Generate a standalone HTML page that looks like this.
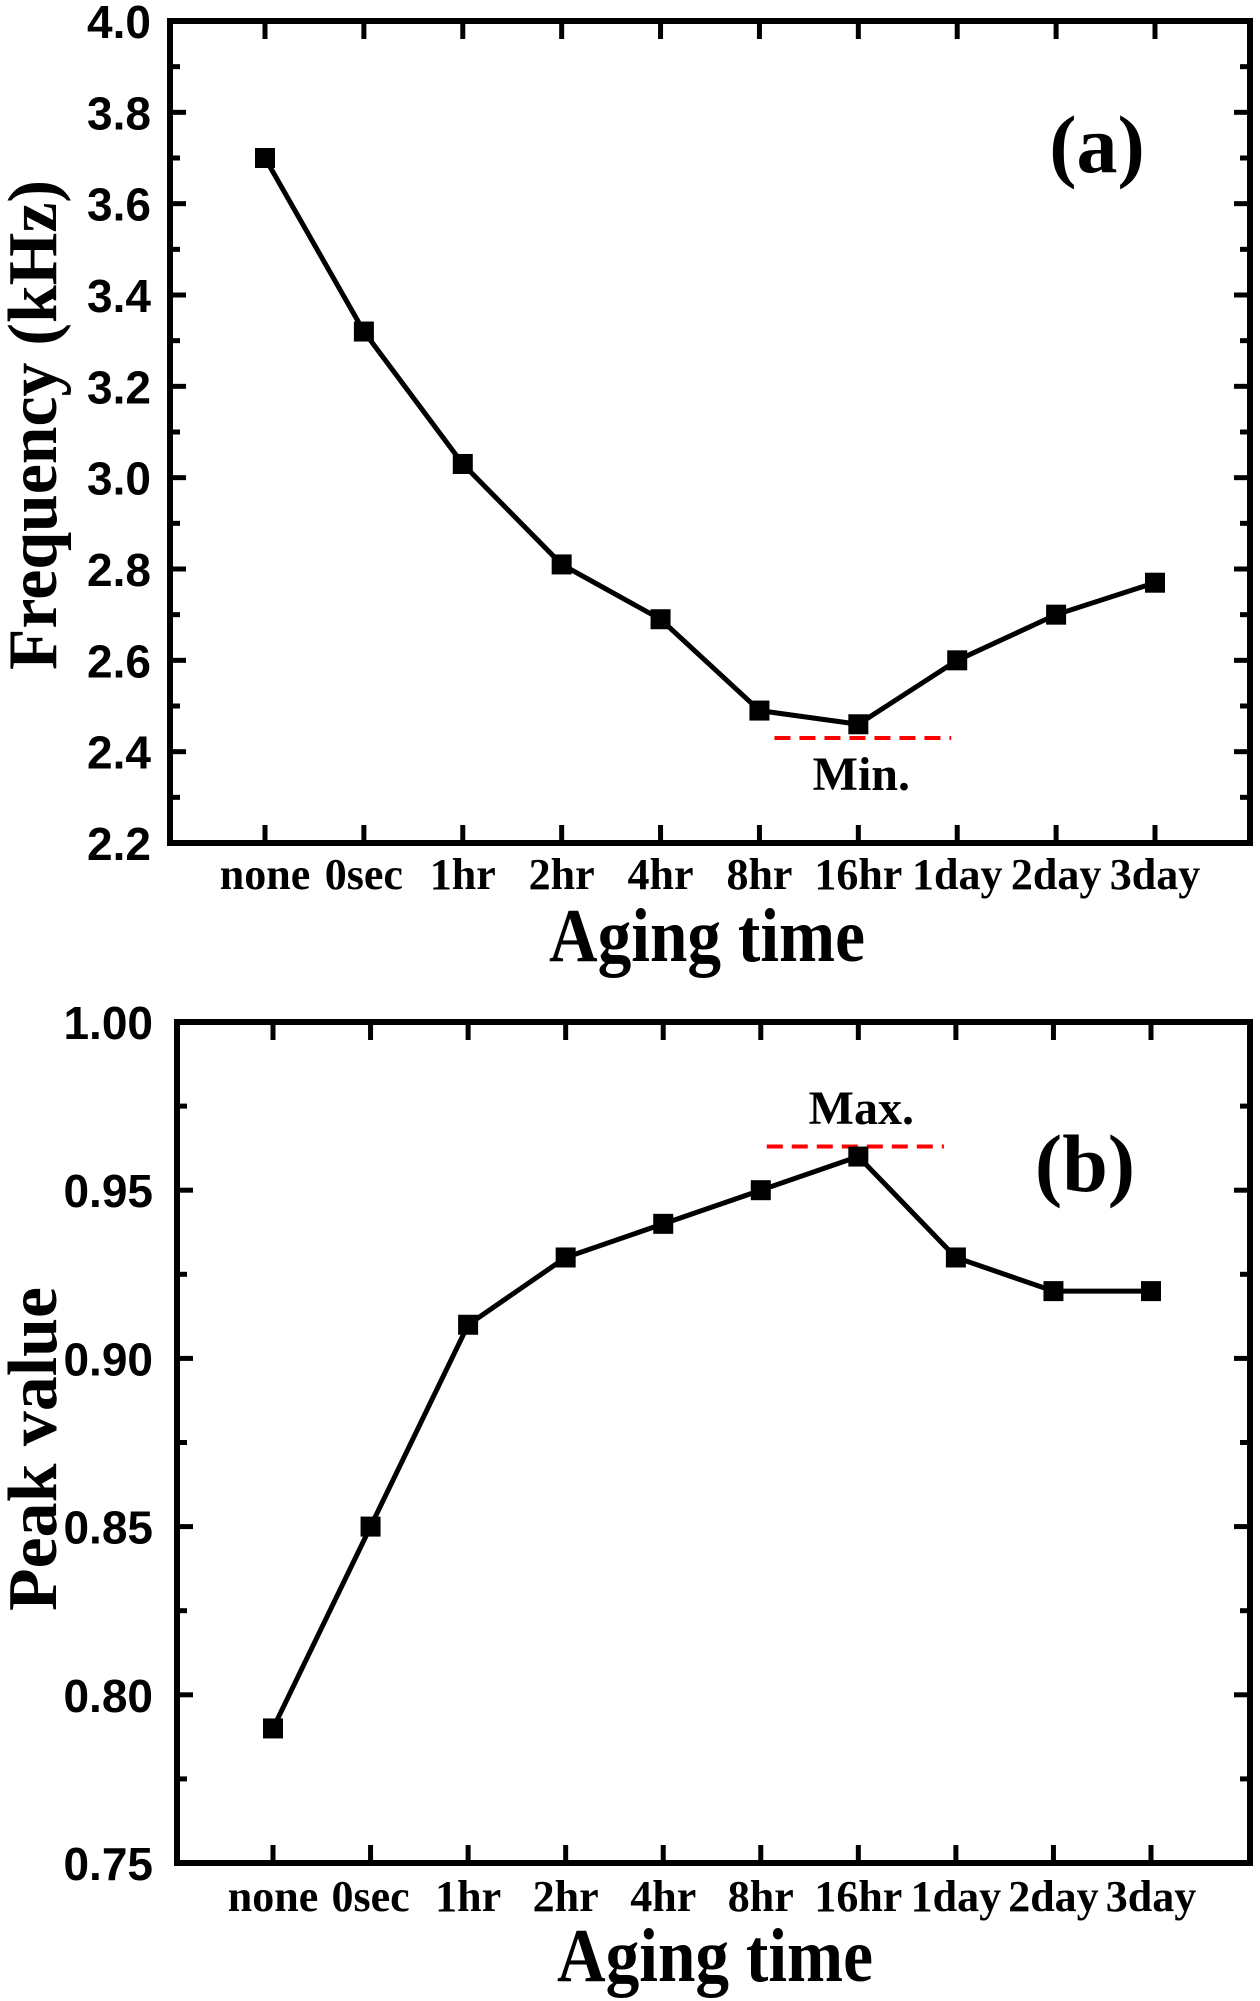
<!DOCTYPE html>
<html><head><meta charset="utf-8"><style>
html,body{margin:0;padding:0;background:#fff}
svg{display:block}
.tl{font-family:"Liberation Serif",serif;font-weight:bold;font-size:44px}
.yl{font-family:"Liberation Sans",sans-serif;font-weight:bold;font-size:46px}
.tt{font-family:"Liberation Serif",serif;font-weight:bold}
</style></head><body>
<svg id="c" width="1260" height="2001" viewBox="0 0 1260 2001" xmlns="http://www.w3.org/2000/svg"></svg>
<script>
const categories = ["none","0sec","1hr","2hr","4hr","8hr","16hr","1day","2day","3day"];
const freqValues = [3.70,3.32,3.03,2.81,2.69,2.49,2.46,2.60,2.70,2.77];
const peakValues = [0.79,0.85,0.91,0.93,0.94,0.95,0.96,0.93,0.92,0.92];
const freqTicks = ["2.2","2.4","2.6","2.8","3.0","3.2","3.4","3.6","3.8","4.0"];
const peakTicks = ["0.75","0.80","0.85","0.90","0.95","1.00"];
const freqMin = 2.43;
const peakMax = 0.963;

const svg = document.getElementById('c');
const NS = 'http://www.w3.org/2000/svg';
function el(tag, attrs, parent){
  const e = document.createElementNS(NS, tag);
  for (const k in attrs) e.setAttribute(k, attrs[k]);
  (parent||svg).appendChild(e);
  return e;
}

function panel(cfg){
  const g = el('g', {});
  
  
  const L=cfg.L,R=cfg.R,T=cfg.T,B=cfg.B;
  const y = v => B - (v - cfg.ymin)/(cfg.ymax-cfg.ymin)*(B-T);
  const x = i => cfg.x0 + i*(cfg.x1-cfg.x0)/(categories.length-1);
  const ticks = cfg.ticks;
  for (let i=0;i<ticks.length;i++){
    const v = parseFloat(ticks[i]);
    const yy = y(v);
    el('line',{x1:L,x2:L+16,y1:yy,y2:yy,stroke:'#000','stroke-width':5},g);
    el('line',{x1:R-16,x2:R,y1:yy,y2:yy,stroke:'#000','stroke-width':5},g);
    if (i<ticks.length-1){
      const ym = y(v + cfg.step/2);
      el('line',{x1:L,x2:L+10,y1:ym,y2:ym,stroke:'#000','stroke-width':5},g);
      el('line',{x1:R-10,x2:R,y1:ym,y2:ym,stroke:'#000','stroke-width':5},g);
    }
    const t = el('text',{x:cfg.labR,y:yy+17,'text-anchor':'end',class:'yl'},g);
    t.textContent = ticks[i];
    
    
  }
  for (let i=0;i<categories.length;i++){
    const xx = x(i);
    el('line',{x1:xx,x2:xx,y1:B,y2:B-18,stroke:'#000','stroke-width':5},g);
    el('line',{x1:xx,x2:xx,y1:T,y2:T+18,stroke:'#000','stroke-width':5},g);
    const t = el('text',{x:xx,y:cfg.xlabY,'text-anchor':'middle',class:'tl'},g);
    t.textContent = categories[i];
    
    
  }
  const fr = el('rect',{x:L,y:T,width:R-L,height:B-T,fill:'none',stroke:'#000','stroke-width':6},g);
  
  
  const ry = y(cfg.refVal);
  const rl = el('line',{x1:x(5)+cfg.r1,x2:x(7)+cfg.r2,y1:ry,y2:ry,stroke:'#ff0000','stroke-width':4,'stroke-dasharray':'16,9'},g);
  
  
  const rt = el('text',{x:x(6)+3,y:cfg.refTextY,'text-anchor':'middle',class:'tt','font-size':48},g);
  rt.textContent = cfg.refText;
  
  
  const vals = cfg.values;
  const pts = vals.map((v,i)=>x(i)+','+y(v)).join(' ');
  const pl = el('polyline',{points:pts,fill:'none',stroke:'#000','stroke-width':5},g);
  
  
  for (let i=0;i<vals.length;i++){
    const m = el('rect',{x:x(i)-10,y:y(vals[i])-10,width:20,height:20,fill:'#000'},g);
    
    
  }
  const pt = el('text',{x:cfg.plX,y:cfg.plY,'text-anchor':'middle',class:'tt','font-size':82},g);
  pt.textContent = cfg.panelLabel;
  
  
  const xt = el('text',{x:cfg.xtX,y:cfg.xtY,'text-anchor':'middle',class:'tt','font-size':76,textLength:316,lengthAdjust:'spacingAndGlyphs'},g);
  xt.textContent = 'Aging time';
  
  
  const yt = el('text',{x:0,y:0,'text-anchor':'middle',class:'tt','font-size':70,textLength:cfg.ytLen,lengthAdjust:'spacingAndGlyphs',transform:'translate(56,'+cfg.ytY+') rotate(-90)'},g);
  yt.textContent = cfg.yTitle;
  
  
}

panel({name:'panel-a-frequency',L:170,R:1250,T:21,B:843,ymin:2.2,ymax:4.0,step:0.2,ticks:freqTicks,
  x0:265,x1:1155,values:freqValues,labR:151,xlabY:889,refVal:freqMin,refText:'Min.',refTextY:790,r1:15,r2:-6,
  panelLabel:'(a)',plX:1097,plY:172,xtX:707,xtY:961,yTitle:'Frequency (kHz)',ytY:425,ytLen:490});
panel({name:'panel-b-peak',L:177,R:1250,T:1022,B:1863,ymin:0.75,ymax:1.00,step:0.05,ticks:peakTicks,
  x0:273,x1:1151,values:peakValues,labR:153,xlabY:1911,refVal:peakMax,refText:'Max.',refTextY:1124,r1:6,r2:-12,
  panelLabel:'(b)',plX:1085,plY:1191,xtX:715,xtY:1981,yTitle:'Peak value',ytY:1449,ytLen:324});
</script>
</body></html>
